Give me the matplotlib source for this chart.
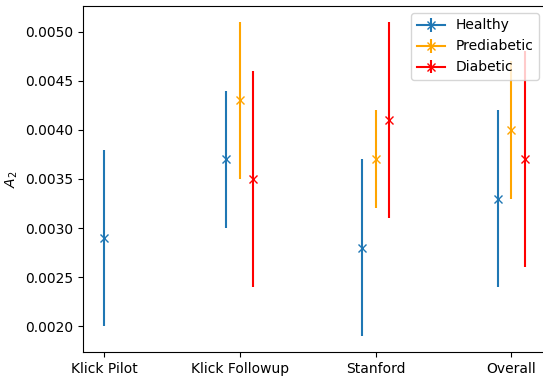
import numpy as np
import matplotlib.pyplot as plt

studies = ['Klick Pilot', 'Klick Followup', 'Stanford', 'Overall']
groups = ['Healthy', 'Prediabetic', 'Diabetic']
colors = ['tab:blue', 'orange', 'red']

# mean and error (half width) per study; None where group not present
healthy_mean = [0.0029, 0.0037, 0.0028, 0.0033]
healthy_err = [0.0009, 0.0007, 0.0009, 0.0009]
prediabetic_mean = [None, 0.0043, 0.0037, 0.0040]
prediabetic_err = [None, 0.0008, 0.0005, 0.0007]
diabetic_mean = [None, 0.0035, 0.0041, 0.0037]
diabetic_err = [None, 0.0011, 0.0010, 0.0011]

means = [healthy_mean, prediabetic_mean, diabetic_mean]
errs = [healthy_err, prediabetic_err, diabetic_err]

fig = plt.figure(figsize=(5.43, 3.77), dpi=100)
# right edge of the axes runs just past the figure, like the cropped reference
ax = fig.add_axes([83/543, 1 - 352/377, 463/543, 346/377])

for i in range(len(studies)):
    present = [g for g in range(len(groups)) if means[g][i] is not None]
    for g in present:
        off = 0.0 if len(present) == 1 else (g - 1) * 0.1
        # one errorbar per point, so the legend handle keeps its line
        ax.errorbar(i + off, means[g][i], yerr=errs[g][i], marker='x',
                    color=colors[g], label=groups[g] if i == 1 else None)

ax.set_xticks(range(len(studies)))
ax.set_xticklabels(studies)
ax.set_ylabel('$A_2$')
ax.legend(loc='upper right')
fig.savefig('out.png', dpi=100)
